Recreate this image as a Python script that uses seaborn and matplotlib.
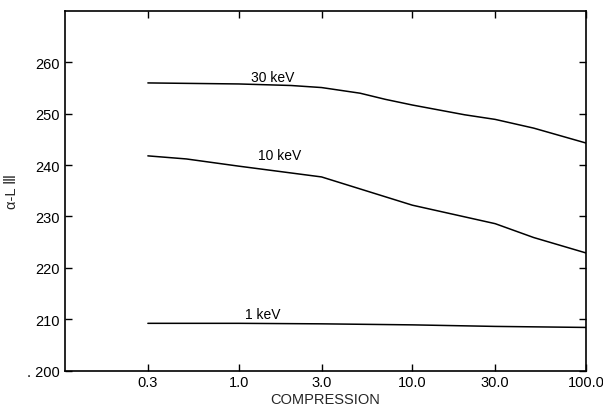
import matplotlib
matplotlib.use("Agg")
import matplotlib.pyplot as plt
import seaborn as sns
import pandas as pd
import numpy as np

# Data
comp_30 = [0.3, 1.0, 2.0, 3.0, 5.0, 7.0, 10.0, 20.0, 30.0, 50.0, 100.0]
val_30 = [256.0, 255.8, 255.5, 255.1, 254.0, 252.8, 251.7, 249.8, 248.9, 247.2, 244.3]

comp_10 = [0.3, 0.5, 1.0, 3.0, 10.0, 30.0, 50.0, 100.0]
val_10 = [241.8, 241.2, 239.8, 237.7, 232.2, 228.6, 225.9, 222.9]

comp_1 = [0.3, 1.0, 3.0, 10.0, 30.0, 100.0]
val_1 = [209.2, 209.2, 209.1, 208.9, 208.6, 208.4]

series_labels = ["30 keV", "10 keV", "1 keV"]
label_pos_x = [1.57, 1.73, 1.38]
label_pos_y = [257.2, 242.0, 211.0]

xticks = [0.3, 1.0, 3.0, 10.0, 30.0, 100.0]
xtick_labels = ["0.3", "1.0", "3.0", "10.0", "30.0", "100.0"]
yticks = [200, 210, 220, 230, 240, 250, 260]
ytick_labels = [". 200", "210", "220", "230", "240", "250", "260"]

sns.set_style("ticks")
plt.rcParams['font.family'] = ['Liberation Sans', 'DejaVu Sans']

fig = plt.figure(figsize=(6.03, 4.10), dpi=100)
ax = fig.add_axes([0.1078, 0.0937, 0.9718 - 0.1078, 0.9707 - 0.0937])

for xs, ys in [(comp_30, val_30), (comp_10, val_10), (comp_1, val_1)]:
    df = pd.DataFrame({"compression": xs, "value": ys})
    sns.lineplot(data=df, x="compression", y="value", ax=ax, color="black",
                 linewidth=1.1, estimator=None, sort=True)

for lab, lx, ly in zip(series_labels, label_pos_x, label_pos_y):
    ax.text(lx, ly, lab, ha="center", va="center", fontsize=10, color="black")

ax.set_xscale("log")
ax.set_xlim(0.1, 100)
ax.set_ylim(200, 270)
ax.set_xticks(xticks)
ax.set_xticklabels(xtick_labels)
ax.xaxis.set_minor_locator(matplotlib.ticker.NullLocator())
ax.set_yticks(yticks)
ax.set_yticklabels(ytick_labels)
ax.tick_params(direction="in", top=True, right=True, labelsize=10.5, length=5,
               width=1, colors="black")
for s in ax.spines.values():
    s.set_linewidth(1.2)
    s.set_color("black")

ax.set_xlabel("COMPRESSION", fontsize=10.5, labelpad=2)
ax.set_ylabel("α-L Ⅲ", fontsize=10.5, labelpad=6)

fig.savefig("out.png", dpi=100)
